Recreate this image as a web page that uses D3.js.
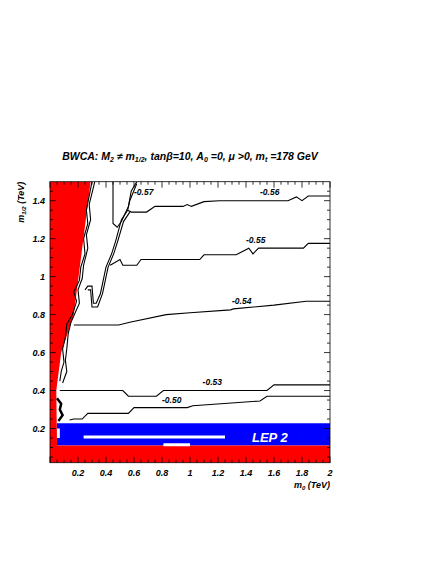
<!DOCTYPE html><html><head><meta charset="utf-8"><script src="https://cdn.jsdelivr.net/npm/d3@7"></script>
<style>body{margin:0;background:#fff}text{font-family:"Liberation Sans",Arial,sans-serif;font-weight:bold;font-style:italic}</style></head><body>
<script>
const xTicks=[0.2,0.4,0.6,0.8,1,1.2,1.4,1.6,1.8,2];
const yTicks=[0.2,0.4,0.6,0.8,1,1.2,1.4];
const redWedge=[[0,0.02],[0,1.5],[0.29,1.5],[0.17,0.8],[0.08,0.6],[0.045,0.4],[0.05,0.11],[2,0.11],[2,0.02]];
const lepBand=[[0.048,0.11],[2,0.11],[2,0.228],[0.048,0.228]];
const c056=[[0.62,1.49],[0.57,1.40],[0.555,1.35],[0.58,1.34],[0.69,1.34],[0.75,1.37],[0.95,1.37],[0.98,1.38],[1.01,1.37],[1.10,1.395],[1.21,1.40],[1.70,1.40],[1.76,1.42],[1.80,1.40],[1.845,1.425],[2.0,1.425]];
const c057=[[0.45,1.5],[0.45,1.28],[0.48,1.26],[0.51,1.29],[0.56,1.37],[0.58,1.45],[0.62,1.5]];
const cWig1=[[0.555,1.35],[0.51,1.30],[0.47,1.19],[0.44,1.12],[0.40,1.05],[0.38,0.98],[0.36,0.91],[0.33,0.86],[0.31,0.86],[0.30,0.95],[0.27,0.95],[0.25,0.93]];
const cWig2=[[0.57,1.34],[0.525,1.29],[0.485,1.19],[0.455,1.12],[0.415,1.05],[0.395,0.98],[0.375,0.91],[0.34,0.84],[0.30,0.84],[0.29,0.93],[0.27,0.93]];
const c055=[[0.43,1.06],[0.5,1.09],[0.52,1.06],[0.62,1.06],[0.65,1.09],[1.07,1.09],[1.10,1.115],[1.33,1.115],[1.42,1.15],[1.45,1.12],[1.49,1.15],[1.81,1.15],[1.845,1.175],[2.0,1.175]];
const c054=[[0.17,0.745],[0.49,0.745],[0.57,0.76],[0.83,0.80],[1.0,0.81],[1.29,0.825],[1.31,0.83],[1.60,0.85],[1.83,0.87],[2.0,0.87]];
const c053=[[0.07,0.40],[0.52,0.40],[0.56,0.37],[0.76,0.37],[0.81,0.40],[1.55,0.40],[1.60,0.43],[2.0,0.43]];
const c050=[[0.14,0.245],[0.17,0.25],[0.23,0.25],[0.27,0.28],[0.56,0.28],[0.60,0.31],[0.98,0.31],[1.02,0.32],[1.50,0.345],[1.55,0.37],[2.0,0.37]];
const edge1=[[0.30,1.5],[0.26,1.35],[0.27,1.28],[0.24,1.2],[0.25,1.12],[0.22,1.05],[0.21,0.98],[0.17,0.92],[0.19,0.87],[0.16,0.8],[0.12,0.75],[0.11,0.68],[0.09,0.62],[0.10,0.55],[0.08,0.5],[0.07,0.45]];
const edge2=[[0.32,1.5],[0.28,1.38],[0.29,1.3],[0.26,1.22],[0.27,1.15],[0.24,1.06],[0.23,0.99],[0.2,0.93],[0.21,0.86],[0.15,0.76],[0.13,0.7],[0.12,0.62],[0.11,0.56],[0.12,0.5],[0.09,0.44]];
const edge3=[[0.05,0.36],[0.08,0.33],[0.07,0.3],[0.09,0.27],[0.06,0.24]];
const labels=[["-0.57",0.60,1.43],["-0.56",1.50,1.43],["-0.55",1.40,1.175],["-0.54",1.30,0.855],["-0.53",1.09,0.43],["-0.50",0.80,0.335]];
const W=436,H=564,L=50,R=330,T=181.7,B=462.7;
const x=d3.scaleLinear().domain([0,2]).range([L,R]);
const y=d3.scaleLinear().domain([0.02,1.5]).range([B,T]);
const svg=d3.select("body").append("svg").attr("width",W).attr("height",H);
const line=d3.line().x(d=>x(d[0])).y(d=>y(d[1]));
svg.append("defs").append("clipPath").attr("id","c").append("rect").attr("x",L).attr("y",T).attr("width",R-L).attr("height",B-T);
const g=svg.append("g").attr("clip-path","url(#c)");
g.append("path").attr("d",line(lepBand)+"Z").attr("fill","#0000ff");
g.append("path").attr("d",line(redWedge)+"Z").attr("fill","#ff0000");
g.append("rect").attr("x",x(0.05)).attr("y",y(0.2)).attr("width",x(0.07)-x(0.05)).attr("height",y(0.15)-y(0.2)).attr("fill","#fff");
[c056,c057,cWig1,cWig2,c055,c054,c053,c050,edge1,edge2].forEach(c=>g.append("path").attr("d",line(c)).attr("fill","none").attr("stroke","#000").attr("stroke-width",1.1));
g.append("path").attr("d",line(edge3)).attr("fill","none").attr("stroke","#000").attr("stroke-width",2.5);
g.append("line").attr("x1",x(0.24)).attr("x2",x(1.25)).attr("y1",y(0.155)).attr("y2",y(0.155)).attr("stroke","#fff").attr("stroke-width",3);
g.append("line").attr("x1",x(0.81)).attr("x2",x(1.0)).attr("y1",y(0.115)).attr("y2",y(0.115)).attr("stroke","#fff").attr("stroke-width",3);
g.append("text").attr("x",x(1.57)).attr("y",y(0.155)+5).attr("text-anchor","middle").attr("fill","#fff").attr("font-size",13).text("LEP 2");
labels.forEach(l=>svg.append("text").attr("x",x(l[1])).attr("y",y(l[2])).attr("font-size",8.5).attr("text-anchor","start").text(l[0]));
svg.append("rect").attr("x",L).attr("y",T).attr("width",R-L).attr("height",B-T).attr("fill","none").attr("stroke","#000").attr("stroke-width",0.8);
const tk=svg.append("g").attr("stroke","#000").attr("stroke-width",0.8);
d3.range(0,2.001,0.05).forEach(v=>{const m=Math.abs(v*5-Math.round(v*5))<1e-6;const s=m?6:3;
 tk.append("line").attr("x1",x(v)).attr("x2",x(v)).attr("y1",B).attr("y2",B-s);
 tk.append("line").attr("x1",x(v)).attr("x2",x(v)).attr("y1",T).attr("y2",T+s);});
d3.range(0.05,1.5,0.05).forEach(v=>{const m=Math.abs(v*5-Math.round(v*5))<1e-6;const s=m?6:3;
 tk.append("line").attr("y1",y(v)).attr("y2",y(v)).attr("x1",L).attr("x2",L+s);
 tk.append("line").attr("y1",y(v)).attr("y2",y(v)).attr("x1",R).attr("x2",R-s);});
xTicks.forEach(v=>svg.append("text").attr("x",x(v)).attr("y",B+13).attr("text-anchor","middle").attr("font-size",9).text(v));
yTicks.forEach(v=>svg.append("text").attr("x",L-5).attr("y",y(v)+3).attr("text-anchor","end").attr("font-size",9).text(v));
const xl=svg.append("text").attr("x",R).attr("y",B+25).attr("text-anchor","end").attr("font-size",9);
xl.append("tspan").text("m");xl.append("tspan").attr("font-size",6).attr("dy",2).text("0");xl.append("tspan").attr("dy",-2).text(" (TeV)");
const yl=svg.append("text").attr("transform",`translate(24,${T})rotate(-90)`).attr("text-anchor","end").attr("font-size",9);
yl.append("tspan").text("m");yl.append("tspan").attr("font-size",6).attr("dy",2).text("1/2");yl.append("tspan").attr("dy",-2).text(" (TeV)");
const t=svg.append("text").attr("x",190).attr("y",160).attr("text-anchor","middle").attr("font-size",10.5);
t.append("tspan").text("BWCA: M");t.append("tspan").attr("font-size",7).attr("dy",2).text("2");
t.append("tspan").attr("dy",-2).text(" ≠ m");t.append("tspan").attr("font-size",7).attr("dy",2).text("1/2");
t.append("tspan").attr("dy",-2).text(", tanβ=10, A");t.append("tspan").attr("font-size",7).attr("dy",2).text("0");
t.append("tspan").attr("dy",-2).text(" =0, μ >0, m");t.append("tspan").attr("font-size",7).attr("dy",2).text("t");
t.append("tspan").attr("dy",-2).text(" =178 GeV");
</script></body></html>
